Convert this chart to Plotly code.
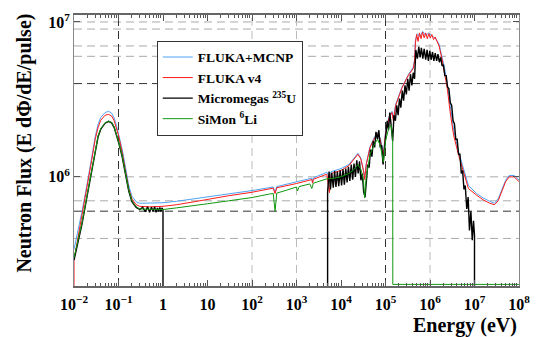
import plotly.graph_objects as go

# ---------------- data ----------------
# FLUKA+MCNP
E_mcnp = [0.01, 0.012, 0.015, 0.02, 0.025, 0.03, 0.035, 0.04, 0.05, 0.06,
          0.07, 0.08, 0.09, 0.1, 0.12, 0.14, 0.17, 0.2, 0.25, 0.3,
          0.5, 1, 2, 5, 10, 30, 100, 300, 330, 360,
          1000, 2200, 2300, 2400, 4800, 5500, 6000, 1e4, 1.5e4, 2e4,
          2.4e4, 2.8e4, 3.2e4, 3.4e4, 3.7e4, 4.5e4, 5.5e4, 6.6e4, 7.6e4, 8.5e4,
          9e4, 1e5, 1.2e5, 1.4e5, 1.5e5, 1.7e5, 2.35e5, 3.3e5, 4.2e5, 4.5e5,
          4.7e5, 5.2e5, 6e5, 6.8e5, 8e5, 9.4e5, 1.1e6, 1.3e6, 1.6e6, 1.9e6,
          2.2e6, 2.45e6, 2.9e6, 3.4e6, 4.4e6, 5.7e6, 7.3e6, 1.12e7, 1.57e7, 2.2e7,
          2.8e7, 3.4e7, 4e7, 5e7, 6e7, 7.8e7, 1e8]
F_mcnp = [3.4e5, 4.3e5, 5.9e5, 9.2e5, 1.35e6, 1.82e6, 2.2e6, 2.42e6, 2.6e6, 2.65e6,
          2.58e6, 2.4e6, 2.15e6, 1.9e6, 1.52e6, 1.2e6, 8.8e5, 7.5e5, 6.9e5, 6.75e5,
          6.75e5, 6.8e5, 6.95e5, 7.2e5, 7.45e5, 7.8e5, 8.15e5, 8.6e5, 7.9e5, 8.65e5,
          9.25e5, 9.8e5, 9.3e5, 9.85e5, 1.07e6, 1.0e6, 1.08e6, 1.13e6, 1.2e6, 1.32e6,
          1.42e6, 1.32e6, 1.12e6, 1.0e6, 1.22e6, 1.57e6, 1.78e6, 1.93e6, 1.78e6, 1.48e6,
          1.42e6, 1.95e6, 2.45e6, 2.65e6, 2.4e6, 2.95e6, 3.8e6, 4.6e6, 5.1e6, 5.7e6,
          7.6e6, 8.4e6, 8.0e6, 8.7e6, 8.2e6, 8.5e6, 8.1e6, 7.9e6, 7.2e6, 5.8e6,
          4.8e6, 3.95e6, 2.7e6, 2.0e6, 1.45e6, 1.12e6, 8.8e5, 7.8e5, 7.3e5, 6.95e5,
          6.75e5, 7.2e5, 8.2e5, 9.5e5, 1.02e6, 1.02e6, 9.5e5]

# FLUKA v4
E_v4 = [0.01, 0.01, 0.012, 0.015, 0.02, 0.025, 0.03, 0.035, 0.04, 0.05,
        0.06, 0.07, 0.08, 0.09, 0.1, 0.12, 0.14, 0.17, 0.2, 0.25,
        0.3, 0.5, 1, 2, 5, 10, 30, 100, 300, 330,
        360, 1000, 2200, 2300, 2400, 4800, 5500, 6000, 1e4, 1.5e4,
        2e4, 2.4e4, 2.8e4, 3.2e4, 3.4e4, 3.7e4, 4.5e4, 5.5e4, 6.6e4, 7.6e4,
        8.5e4, 9e4, 1e5, 1.2e5, 1.4e5, 1.5e5, 1.7e5, 2.35e5, 3.3e5, 4.2e5,
        4.5e5, 4.7e5, 5.0e5, 5.4e5, 5.8e5, 6.3e5, 6.8e5, 7.4e5, 8.0e5, 8.7e5,
        9.4e5, 1.02e6, 1.1e6, 1.2e6, 1.3e6, 1.45e6, 1.6e6, 1.9e6, 2.2e6, 2.45e6,
        2.9e6, 3.4e6, 4.4e6, 5.7e6, 7.3e6, 1.12e7, 1.57e7, 2.2e7, 2.8e7, 3.4e7,
        4e7, 5e7, 6e7, 7.8e7, 1e8]
F_v4 = [1e5, 2.9e5, 3.9e5, 5.5e5, 8.7e5, 1.28e6, 1.75e6, 2.1e6, 2.32e6, 2.5e6,
        2.53e6, 2.47e6, 2.3e6, 2.07e6, 1.85e6, 1.46e6, 1.15e6, 8.4e5, 7.2e5, 6.6e5,
        6.45e5, 6.4e5, 6.45e5, 6.6e5, 6.9e5, 7.15e5, 7.55e5, 7.95e5, 8.45e5, 7.8e5,
        8.5e5, 9.05e5, 9.6e5, 9.1e5, 9.65e5, 1.04e6, 7.9e5, 1.05e6, 1.1e6, 1.18e6,
        1.3e6, 1.4e6, 1.3e6, 1.1e6, 9.6e5, 1.2e6, 1.55e6, 1.75e6, 1.9e6, 1.75e6,
        1.45e6, 1.38e6, 1.9e6, 2.4e6, 2.6e6, 2.3e6, 2.9e6, 3.75e6, 4.55e6, 5.0e6,
        5.6e6, 7.3e6, 8.3e6, 7.5e6, 8.5e6, 7.8e6, 8.6e6, 7.9e6, 8.5e6, 7.8e6,
        8.4e6, 7.9e6, 8.3e6, 7.7e6, 8.0e6, 7.4e6, 7.0e6, 5.6e6, 4.5e6, 3.7e6,
        2.5e6, 1.85e6, 1.38e6, 1.07e6, 8.4e5, 7.6e5, 7.1e5, 6.75e5, 6.6e5, 7.0e5,
        8.0e5, 9.3e5, 1.0e6, 1.0e6, 9.3e5]

# Micromegas 235U (values below the axis = no data)
E_mgas = [0.01, 0.012, 0.015, 0.02, 0.025, 0.03, 0.035, 0.04, 0.05, 0.06,
          0.07, 0.08, 0.09, 0.1, 0.12, 0.14, 0.17, 0.2, 0.25, 0.3,
          0.35, 0.4, 0.45, 0.5, 0.55, 0.6, 0.65, 0.7, 0.75, 0.8,
          0.85, 0.9, 0.95, 1.0, 1.0,
          5.0e3, 5.0e3, 5.4e3, 5.8e3, 6.2e3, 6.7e3, 7.2e3, 7.7e3, 8.3e3, 8.9e3,
          9.6e3, 1.03e4, 1.11e4, 1.19e4, 1.28e4, 1.37e4, 1.47e4, 1.58e4, 1.70e4, 1.83e4,
          1.96e4, 2.11e4, 2.26e4, 2.43e4, 2.61e4, 2.80e4, 3.01e4, 3.23e4, 3.47e4, 3.73e4,
          4.0e4, 4.3e4, 4.6e4, 4.95e4, 5.3e4, 5.7e4, 6.1e4, 6.6e4, 7.1e4, 7.6e4,
          8.2e4, 8.8e4, 9.4e4, 1.01e5, 1.09e5, 1.17e5, 1.25e5, 1.35e5, 1.45e5, 1.55e5,
          1.67e5, 1.79e5, 1.92e5, 2.06e5, 2.21e5, 2.38e5, 2.55e5, 2.74e5, 2.94e5, 3.16e5,
          3.39e5, 3.64e5, 3.91e5, 4.2e5, 4.5e5, 4.8e5, 5.2e5, 5.6e5, 6.0e5, 6.4e5,
          6.9e5, 7.4e5, 8.0e5, 8.6e5, 9.2e5, 9.9e5, 1.06e6, 1.14e6, 1.22e6, 1.31e6,
          1.41e6, 1.51e6, 1.62e6, 1.74e6, 1.87e6, 2.0e6, 2.15e6, 2.31e6, 2.48e6, 2.66e6,
          2.86e6, 3.07e6, 3.3e6, 3.54e6, 3.8e6, 4.08e6, 4.38e6, 4.7e6, 5.05e6, 5.4e6,
          5.8e6, 6.2e6, 6.7e6, 7.2e6, 7.7e6, 8.3e6, 8.9e6, 9.5e6, 1.0e7, 1.0e7]
F_mgas = [2.9e5, 3.6e5, 4.9e5, 7.7e5, 1.1e6, 1.48e6, 1.83e6, 2.03e6, 2.22e6, 2.28e6,
          2.23e6, 2.08e6, 1.88e6, 1.68e6, 1.36e6, 1.08e6, 8.1e5, 6.9e5, 6.35e5, 6.15e5,
          6.35e5, 5.95e5, 6.4e5, 5.9e5, 6.35e5, 6.0e5, 6.4e5, 5.9e5, 6.3e5, 6.0e5,
          6.35e5, 5.95e5, 6.3e5, 6.1e5, 1e5,
          1e5, 8.0e5, 1.08e6, 8.3e5, 1.06e6, 8.5e5, 1.09e6, 8.6e5, 1.08e6, 8.7e5,
          1.1e6, 8.8e5, 1.12e6, 8.9e5, 1.13e6, 9.2e5, 1.16e6, 9.4e5, 1.2e6, 9.6e5,
          1.22e6, 1.0e6, 1.28e6, 1.05e6, 1.26e6, 9.5e5, 1.05e6, 8.0e5, 7.4e5, 9.5e5,
          1.2e6, 1.15e6, 1.5e6, 1.35e6, 1.7e6, 1.55e6, 1.95e6, 1.75e6, 2.0e6, 1.55e6,
          1.6e6, 1.2e6, 1.5e6, 1.7e6, 2.3e6, 2.0e6, 2.6e6, 2.1e6, 1.7e6, 2.5e6,
          2.3e6, 2.9e6, 2.5e6, 3.2e6, 2.8e6, 3.6e6, 3.1e6, 3.9e6, 3.4e6, 4.3e6,
          3.6e6, 4.6e6, 3.9e6, 4.7e6, 4.3e6, 6.6e6, 5.8e6, 6.9e6, 5.9e6, 6.8e6,
          5.8e6, 6.7e6, 5.7e6, 6.6e6, 5.6e6, 6.5e6, 5.7e6, 6.4e6, 5.6e6, 6.3e6,
          5.6e6, 6.2e6, 5.5e6, 5.9e6, 5.2e6, 5.3e6, 4.5e6, 4.5e6, 3.8e6, 3.7e6,
          3.0e6, 2.9e6, 2.3e6, 2.2e6, 1.75e6, 1.75e6, 1.4e6, 1.4e6, 1.05e6, 1.1e6,
          8.3e5, 8.8e5, 6.2e5, 7.4e5, 4.5e5, 6.0e5, 3.9e5, 5.2e5, 4.2e5, 1e5]

# SiMon 6Li (drops to the axis above 1.45e5 eV)
E_simon = [0.01, 0.012, 0.015, 0.02, 0.025, 0.03, 0.035, 0.04, 0.05, 0.06,
           0.07, 0.08, 0.09, 0.1, 0.12, 0.14, 0.17, 0.2, 0.25, 0.3,
           0.5, 1, 2, 5, 10, 30, 100, 250, 300, 330,
           360, 600, 1000, 1050, 1150, 2000, 2200, 2400, 4800, 7000,
           1e4, 1.5e4, 2e4, 2.4e4, 2.8e4, 3.2e4, 3.4e4, 3.7e4, 4.5e4, 5.5e4,
           6.6e4, 7.6e4, 8.5e4, 9e4, 1e5, 1.2e5, 1.35e5, 1.45e5, 1.46e5, 1e8]
F_simon = [3.0e5, 3.7e5, 5.0e5, 7.8e5, 1.12e6, 1.5e6, 1.85e6, 2.05e6, 2.23e6, 2.29e6,
           2.24e6, 2.1e6, 1.9e6, 1.7e6, 1.38e6, 1.1e6, 8.2e5, 7.0e5, 6.4e5, 6.2e5,
           6.15e5, 6.15e5, 6.3e5, 6.5e5, 6.7e5, 7.0e5, 7.35e5, 7.75e5, 7.8e5, 6.0e5,
           7.85e5, 8.2e5, 8.6e5, 8.1e5, 8.65e5, 9.0e5, 8.4e5, 9.1e5, 9.7e5, 9.8e5,
           1.0e6, 1.05e6, 1.12e6, 1.2e6, 1.12e6, 9.5e5, 7.3e5, 1.0e6, 1.4e6, 1.6e6,
           1.75e6, 1.6e6, 1.3e6, 1.25e6, 1.7e6, 2.1e6, 2.15e6, 1.68e6, 2.02e5, 2.02e5]

SERIES = [
    ("FLUKA+MCNP", E_mcnp, F_mcnp, "#4ea3f5", 1),
    ("FLUKA v4", E_v4, F_v4, "#ff1a1a", 1),
    ("Micromegas <sup>235</sup>U", E_mgas, F_mgas, "#000000", 1.4),
    ("SiMon <sup>6</sup>Li", E_simon, F_simon, "#119911", 1),
]

X_TICKS = [1e-2, 1e-1, 1, 10, 1e2, 1e3, 1e4, 1e5, 1e6, 1e7, 1e8]
X_LABELS = ["10<sup>\u22122</sup>", "10<sup>\u22121</sup>", "1", "10", "10<sup>2</sup>",
            "10<sup>3</sup>", "10<sup>4</sup>", "10<sup>5</sup>", "10<sup>6</sup>",
            "10<sup>7</sup>", "10<sup>8</sup>"]
Y_TICKS = [1e6, 1e7]
Y_LABELS = ["10<sup>6</sup>", "10<sup>7</sup>"]

# dashed grid levels
H_GRID_DARK = [4e6, 6e5]
H_GRID_LIGHT = [1e7, 9e6, 7e6, 6e6, 1e6, 7e5, 4e5]
V_GRID_DARK = [0.1, 1e5]
V_GRID_LIGHT = [1e2, 1e3, 1e6]

FONT = "Liberation Serif, Times New Roman, serif"

fig = go.Figure()
for name, E, F, col, w in SERIES:
    fig.add_trace(go.Scatter(x=E, y=F, mode="lines", name=name,
                             line=dict(color=col, width=w)))

shapes = []
for v in H_GRID_LIGHT + H_GRID_DARK:
    dark = v in H_GRID_DARK
    shapes.append(dict(type="line", xref="paper", yref="y", x0=0, x1=1, y0=v, y1=v,
                       layer="below",
                       line=dict(color="#333333" if dark else "#aaaaaa", width=1,
                                 dash="8px,5px")))
for v in V_GRID_LIGHT + V_GRID_DARK:
    dark = v in V_GRID_DARK
    shapes.append(dict(type="line", xref="x", yref="paper", x0=v, x1=v, y0=0, y1=1,
                       layer="below",
                       line=dict(color="#333333" if dark else "#bbbbbb", width=1,
                                 dash="8px,5px")))

minor_x = [k * 10.0 ** d for d in range(-2, 8) for k in range(2, 10)]

fig.update_layout(
    width=541, height=337,
    margin=dict(l=74, r=11, t=13, b=51),
    paper_bgcolor="white", plot_bgcolor="white",
    font=dict(family=FONT, color="black"),
    showlegend=True,
    legend=dict(x=0.186, y=0.905, xanchor="left", yanchor="top",
                bgcolor="white", bordercolor="#333333", borderwidth=1,
                font=dict(family=FONT, size=13.5, weight="bold"),
                itemwidth=30, tracegroupgap=0),
    shapes=shapes,
    annotations=[
        dict(text="Neutron Flux (E d\u03a6/dE/pulse)", textangle=-90,
             xref="paper", yref="paper", x=-0.112, y=0.526,
             xanchor="center", yanchor="middle", showarrow=False,
             font=dict(family=FONT, size=20, weight="bold")),
        dict(text="Energy (eV)", xref="paper", yref="paper", x=1.0, y=-0.147,
             xanchor="right", yanchor="middle", showarrow=False,
             font=dict(family=FONT, size=20, weight="bold")),
    ],
)
fig.update_xaxes(type="log", range=[-2, 8], tickmode="array", tickvals=X_TICKS,
                 ticktext=X_LABELS, ticks="inside", ticklen=6, tickcolor="#555555",
                 showgrid=False, zeroline=False, showline=True, linecolor="#666666",
                 linewidth=1.5, mirror="ticks", ticklabelstandoff=3,
                 tickfont=dict(family=FONT, size=16, weight="bold"),
                 minor=dict(tickmode="array", tickvals=minor_x, ticks="inside",
                            ticklen=3, tickcolor="#555555", showgrid=False))
fig.update_yaxes(type="log", range=[5.295, 7.045], tickmode="array", tickvals=Y_TICKS,
                 ticktext=Y_LABELS, ticks="inside", ticklen=6, tickcolor="#555555",
                 showgrid=False, zeroline=False, showline=True, linecolor="#888888",
                 linewidth=1, mirror="ticks",
                 tickfont=dict(family=FONT, size=16, weight="bold"))

fig.write_html("out.html")
